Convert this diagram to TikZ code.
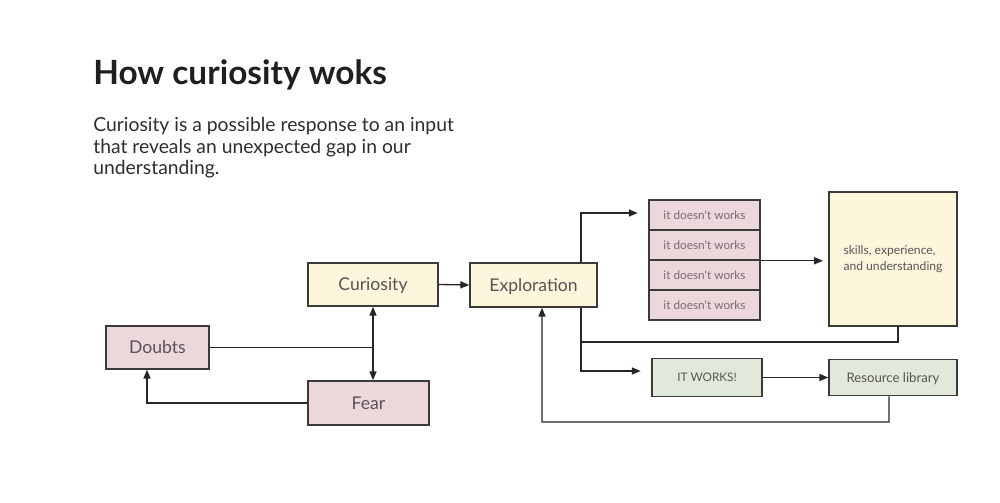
\documentclass[tikz,border=0pt]{standalone}
\usepackage{fontspec}
\setmainfont{Lato}
\usetikzlibrary{arrows.meta}

\definecolor{boxline}{RGB}{58,58,58}
\definecolor{boxtext}{RGB}{88,84,84}
\definecolor{lighttext}{RGB}{120,108,110}
\definecolor{pinkfill}{RGB}{236,215,219}
\definecolor{creamfill}{RGB}{252,246,221}
\definecolor{greenfill}{RGB}{224,233,218}

\begin{document}
\begin{tikzpicture}[x=0.02cm, y=-0.02cm,
  box/.style={draw=boxline, line width=0.9pt, text=boxtext, inner sep=0pt,
    font=\fontsize{10}{12}\selectfont},
  onerow/.style={text depth=0pt},
  smallbox/.style={box, text=lighttext, font=\fontsize{6.7}{9}\selectfont},
  conn/.style={draw=black!85, line width=0.75pt},
  arr/.style={conn, -{Triangle[length=5pt, width=4pt]}}
]
  \fill[white] (0,0) rectangle (1000,503);
  \useasboundingbox (0,0) rectangle (1000,503);

  % heading and intro text
  \node[anchor=base west, inner sep=0pt, text=black!88,
    font=\fontsize{19}{23}\bfseries\selectfont] (title) at (93,85) {How curiosity woks};
  \node[anchor=base west, inner sep=0pt, text=black!82, align=left,
    font=\fontsize{11}{12.4}\selectfont] (intro) at (93,175)
    {Curiosity is a possible response to an input\\
     that reveals an unexpected gap in our\\
     understanding.};

  % left part of the loop
  \node[box, onerow, fill=creamfill, minimum width=2.6cm, minimum height=0.86cm] (cur) at (373,284.5) {Curiosity};
  \node[box, onerow, fill=creamfill, minimum width=2.54cm, minimum height=0.88cm] (expl) at (533.5,285) {Exploration};
  \node[box, onerow, fill=pinkfill, minimum width=2.06cm, minimum height=0.86cm] (doubts) at (157.5,347.5) {Doubts};
  \node[box, onerow, fill=pinkfill, minimum width=2.42cm, minimum height=0.88cm] (fear) at (368.5,403) {Fear};

  % failed attempts, stacked
  \foreach \i/\y in {1/215,2/245,3/275,4/305}
    \node[smallbox, onerow, fill=pinkfill, minimum width=2.22cm, minimum height=0.6cm] (fail\i) at (704.5,\y) {it doesn\textquotesingle t works};

  \node[smallbox, fill=creamfill, minimum width=2.56cm, minimum height=2.68cm,
    align=left, text=boxtext, font=\fontsize{6.9}{9}\selectfont] (skills) at (893,259) {skills, experience,\\and understanding};
  \node[smallbox, onerow, fill=greenfill, minimum width=2.2cm, minimum height=0.76cm, text=boxtext] (works) at (707,377.5) {IT WORKS!};
  \node[smallbox, onerow, fill=greenfill, minimum width=2.56cm, minimum height=0.72cm, text=boxtext,
    font=\fontsize{7.5}{9}\selectfont] (res) at (893,377.5) {Resource library};

  % connectors
  \draw[arr] (cur.east) -- (expl.west);
  \draw[arr, {Triangle[length=5pt, width=4pt]}-{Triangle[length=5pt, width=4pt]}]
    (cur.south) -- (cur.south |- fear.north);
  \draw[conn] (doubts.east) -- (doubts.east -| cur.south);
  \draw[arr] (fear.west) -| ([xshift=-0.21cm]doubts.south);

  \coordinate (exup) at ([xshift=0.95cm]expl.north);
  \coordinate (exdown) at ([xshift=0.95cm]expl.south);
  \draw[arr, shorten >=6pt] (exup) |- ([yshift=0.04cm]fail1.west);
  \draw[arr, shorten >=6pt] (exdown) |- ([yshift=0.13cm]works.west);
  \draw[arr, shorten >=3pt] (fail2.south east) -- (fail2.south east -| skills.west);
  \coordinate (join) at (581,342);
  \draw[conn] ([xshift=0.1cm]skills.south) |- (join);
  \draw[arr] (works.east) -- (res.west);

  % back to exploration
  \coordinate (back) at (542,422);
  \draw[arr] ([xshift=-0.08cm]res.south) |- (back) -- ([xshift=0.17cm]expl.south);

\end{tikzpicture}
\end{document}
